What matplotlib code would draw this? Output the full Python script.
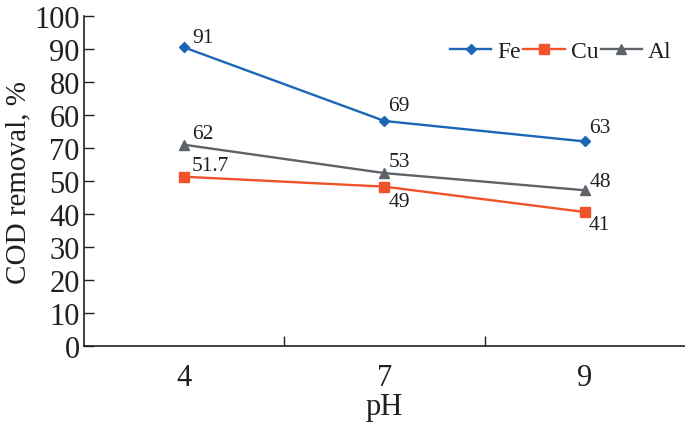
import matplotlib
matplotlib.use("Agg")
import matplotlib.pyplot as plt
from matplotlib.ticker import FixedLocator

plt.rcParams['font.family'] = ['Liberation Serif', 'DejaVu Serif']

ph_labels = ['4', '7', '9']
fe = [90.5, 68.2, 62.0]
cu = [51.3, 48.3, 40.6]
al = [61.0, 52.4, 47.2]
fe_text = ['91', '69', '63']
cu_text = ['51.7', '49', '41']
al_text = ['62', '53', '48']
y_ticks = [0, 10, 20, 30, 40, 50, 60, 70, 80, 90, 100]
y_tick_labels = ['0', '10', '20', '30', '40', '50', '70', '60', '80', '90', '100']

c_fe = '#1b67b6'
c_cu = '#f0522a'
c_al = '#5d6369'
tc = '#231f20'

fig = plt.figure(figsize=(6.85, 4.27), dpi=100)
ax = fig.add_axes([0.1226, 0.1874, 0.8774, 0.7726])

x = [1, 2, 3]
ax.plot(x, fe, color=c_fe, lw=1.7, marker='D', ms=5.5, label='Fe')
ax.plot(x, cu, color=c_cu, lw=1.7, marker='s', ms=7, label='Cu')
ax.plot(x, al, color=c_al, lw=1.7, marker='^', ms=6.5, label='Al')

px = 72 / 100.0
fe_off = [(8, 10), (4, 15), (4, 14)]
cu_off = [(8, 11), (4, -15), (4, -12)]
al_off = [(8, 11), (4, 12), (5, 9)]
for vals, texts, offs in ((fe, fe_text, fe_off), (cu, cu_text, cu_off), (al, al_text, al_off)):
    for xi, v, t, (dx, dy) in zip(x, vals, texts, offs):
        ax.annotate(t, (xi, v), xytext=(dx * px, dy * px), textcoords='offset points',
                    ha='left', va='center', fontsize=15.5, color=tc)

ax.set_xlim(0.5, 3.5)
ax.set_ylim(0, 100)
ax.set_xticks(x)
ax.set_xticklabels(ph_labels)
ax.xaxis.set_minor_locator(FixedLocator([1.5, 2.5]))
ax.tick_params(axis='x', which='major', length=0, labelsize=22, colors=tc, pad=12)
ax.tick_params(axis='x', which='minor', length=7, width=1, direction='in', color=tc)
ax.set_yticks(y_ticks)
ax.set_yticklabels(y_tick_labels)
ax.tick_params(axis='y', which='major', length=7, width=1, direction='in', labelsize=22, colors=tc, pad=3)

for s in ('top', 'right'):
    ax.spines[s].set_visible(False)
for s in ('left', 'bottom'):
    ax.spines[s].set_color(tc)
    ax.spines[s].set_linewidth(1.2)

ax.set_xlabel('pH', fontsize=22, color=tc, labelpad=0)
ax.set_ylabel('COD removal, %', fontsize=21, color=tc, labelpad=2)

ax.legend(loc='upper right', bbox_to_anchor=(0.993, 0.955), ncol=3, frameon=False,
          fontsize=17, handlelength=1.75, handletextpad=0.25, columnspacing=0.1,
          borderaxespad=0, labelcolor=tc)

fig.savefig('out.png', dpi=100)
